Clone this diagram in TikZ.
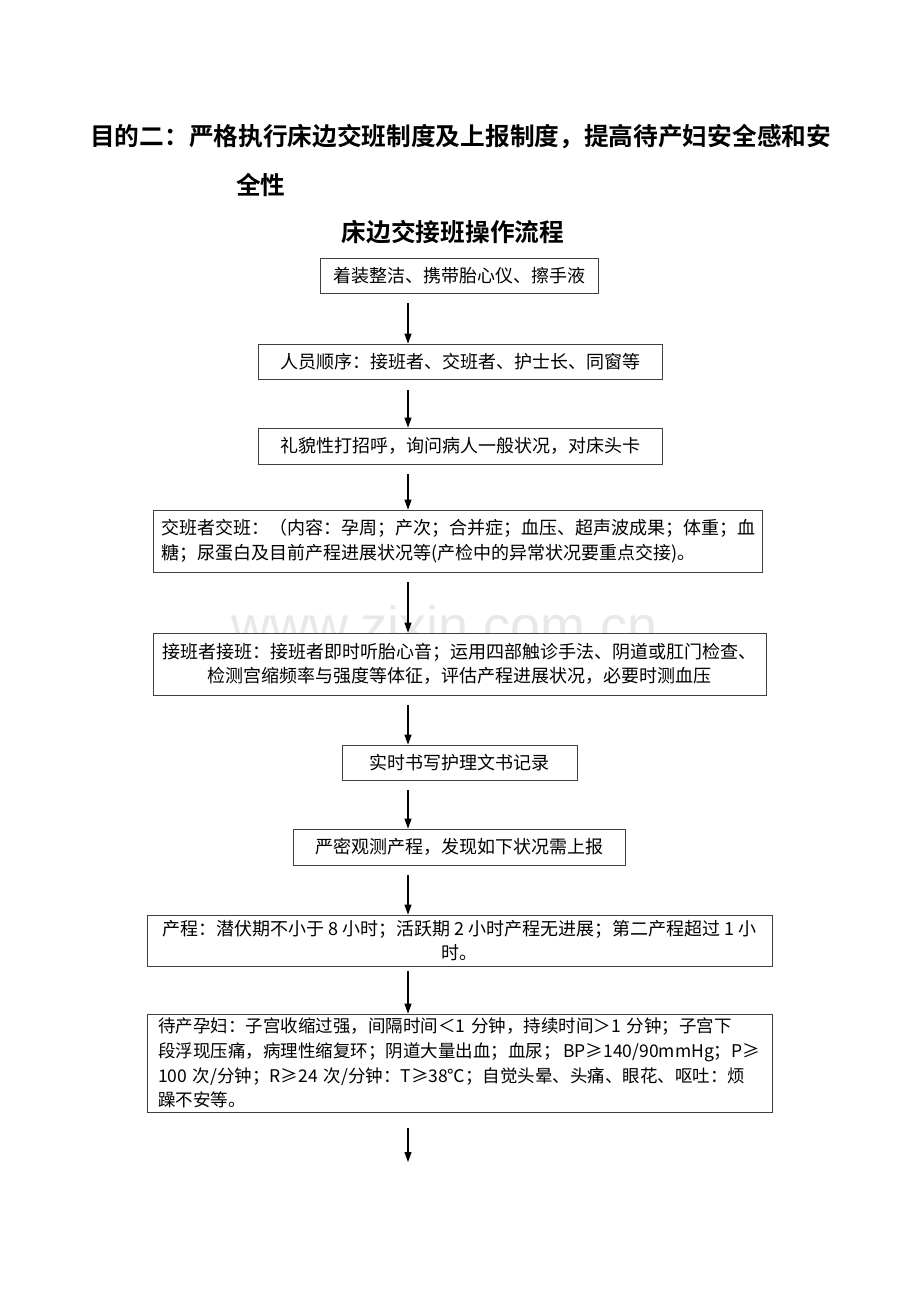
\documentclass[tikz,border=0pt]{standalone}
\usepackage{fontspec}
\newfontfamily\cjk{Noto Sans CJK SC}
\newfontfamily\cjkb{Noto Sans CJK SC Bold}
\newfontfamily\wmfont{Liberation Sans}
\usetikzlibrary{arrows.meta,calc}
\begin{document}
\begin{tikzpicture}[x=1pt,y=-1pt,
  box/.style={draw=black!75,line width=0.8pt,fill=white,inner sep=0pt,font=\cjk\fontsize{18}{24.5}\selectfont},
  arr/.style={line width=1.1pt,-{Triangle[length=10pt,width=7pt]}},
  ttl/.style={font=\cjkb\fontsize{24.7}{30}\selectfont,inner sep=0pt}]
\useasboundingbox (0,0) rectangle (920,1302);
% watermark (partly hidden by the box below it)
\begin{scope}
\clip (0,590) rectangle (920,633);
\node[font=\wmfont\fontsize{54}{60}\selectfont,text=black!9,anchor=base,inner sep=0pt] (wm) at (445,644) {www.zixin.com.cn};
\end{scope}
% titles
\node[ttl,anchor=west] (t1) at (90,137) {目的二：严格执行床边交班制度及上报制度，提高待产妇安全感和安};
\node[ttl,anchor=west] (t2) at (236,185) {全性};
\node[ttl] (t3) at (453,232) {床边交接班操作流程};
% boxes
\node[box,minimum width=278pt,minimum height=35pt] (b1) at (459,275.5) {着装整洁、携带胎心仪、擦手液};
\node[box,minimum width=404pt,minimum height=35pt] (b2) at (460,361.5) {人员顺序：接班者、交班者、护士长、同窗等};
\node[box,minimum width=404pt,minimum height=36pt] (b3) at (460,446) {礼貌性打招呼，询问病人一般状况，对床头卡};
\node[box,minimum width=609pt,minimum height=62pt,text width=593pt,align=left] (b4) at (457.5,541) {交班者交班：（内容：孕周；产次；合并症；血压、超声波成果；体重；血\\糖；尿蛋白及目前产程进展状况等(产检中的异常状况要重点交接)。};
\node[box,minimum width=613pt,minimum height=62pt,align=center] (b5) at (459.5,664) {接班者接班：接班者即时听胎心音；运用四部触诊手法、阴道或肛门检查、\\检测宫缩频率与强度等体征，评估产程进展状况，必要时测血压};
\node[box,minimum width=235pt,minimum height=35pt] (b6) at (459.5,762.5) {实时书写护理文书记录};
\node[box,minimum width=332pt,minimum height=36pt] (b7) at (459,847) {严密观测产程，发现如下状况需上报};
\node[box,minimum width=625pt,minimum height=51pt,align=center] (b8) at (459.5,940.5) {产程：潜伏期不小于 8 小时；活跃期 2 小时产程无进展；第二产程超过 1 小\\时。};
\node[box,minimum width=625pt,minimum height=98pt,text width=603pt,align=left,font=\cjk\fontsize{17.5}{24.7}\selectfont] (b9) at (459.5,1063) {\mbox{待产孕妇：子宫收缩过强，间隔时间＜1 分钟，持续时间＞1 分钟；子宫下}\\\mbox{段浮现压痛，病理性缩复环；阴道大量出血；血尿；\,BP≥140/90mmHg；P≥}\\\mbox{100 次/分钟；R≥24 次/分钟：T≥38℃；自觉头晕、头痛、眼花、呕吐：烦}\\躁不安等。};
% arrows
\coordinate (ax) at (408,0);
\coordinate (end) at (408,1162);
\draw[arr] (ax |- b1.south) ++(0,-10pt) -- (ax |- b2.north);
\draw[arr] (ax |- b2.south) ++(0,-11pt) -- (ax |- b3.north);
\draw[arr] (ax |- b3.south) ++(0,-10pt) -- (ax |- b4.north);
\draw[arr] (ax |- b4.south) ++(0,-10pt) -- (ax |- b5.north);
\draw[arr] (ax |- b5.south) ++(0,-10pt) -- (ax |- b6.north);
\draw[arr] (ax |- b6.south) ++(0,-10pt) -- (ax |- b7.north);
\draw[arr] (ax |- b7.south) ++(0,-10pt) -- (ax |- b8.north);
\draw[arr] (ax |- b8.south) ++(0,-5pt) -- (ax |- b9.north);
\draw[arr] (ax |- b9.south) ++(0,-16pt) -- (end);
\end{tikzpicture}
\end{document}
